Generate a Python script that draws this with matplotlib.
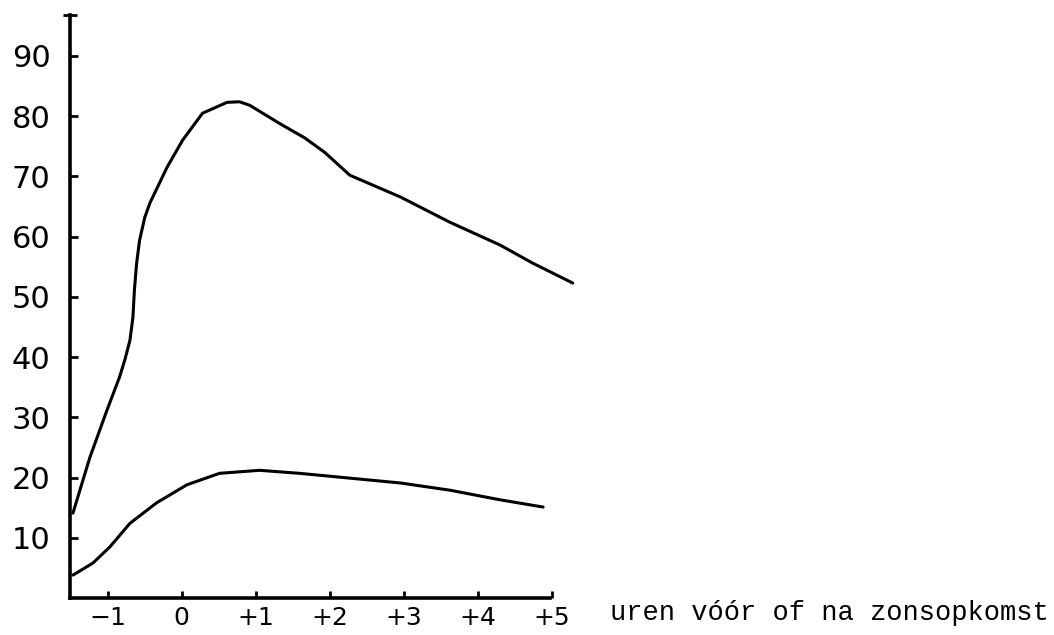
import matplotlib.pyplot as plt

# uren voor/na zonsopkomst
upper_x = [-1.47, -1.24, -1.01, -0.84, -0.77, -0.70, -0.66, -0.64, -0.61, -0.57,
           -0.50, -0.43, -0.20, 0.01, 0.28, 0.61, 0.78, 0.92, 1.32, 1.66,
           1.93, 2.27, 2.95, 3.62, 4.30, 4.74, 5.28]
upper_y = [14.1, 23.4, 31.2, 36.7, 39.5, 42.8, 46.6, 51.1, 55.6, 59.4,
           63.2, 65.6, 71.5, 76.0, 80.5, 82.3, 82.4, 81.8, 78.8, 76.4,
           74.0, 70.2, 66.6, 62.4, 58.6, 55.6, 52.3]

lower_x = [-1.47, -1.20, -0.97, -0.70, -0.34, 0.07, 0.51, 1.05, 1.59,
           2.27, 2.95, 3.62, 4.30, 4.88]
lower_y = [3.8, 5.8, 8.5, 12.4, 15.8, 18.8, 20.7, 21.2, 20.7,
           19.9, 19.1, 17.9, 16.3, 15.1]

x_ticks = [-1, 0, 1, 2, 3, 4, 5]
x_labels = ["\u22121", "0", "+1", "+2", "+3", "+4", "+5"]
y_ticks = [10, 20, 30, 40, 50, 60, 70, 80, 90]

fig = plt.figure(figsize=(10.54, 6.35), dpi=100)
ax = fig.add_axes([0.0664, 0.0583, 0.4854, 0.918])

ax.plot(upper_x, upper_y, color="black", lw=2.2, solid_joinstyle="round", solid_capstyle="round")
ax.plot(lower_x, lower_y, color="black", lw=2.2, solid_joinstyle="round", solid_capstyle="round")

ax.set_xlim(-1.51, 5.4)
ax.set_ylim(0, 96.8)

for s in ["top", "right"]:
    ax.spines[s].set_visible(False)
for s in ["left", "bottom"]:
    ax.spines[s].set_linewidth(2.6)
ax.spines["bottom"].set_bounds(-1.51, 4.97)

ax.set_xticks(x_ticks)
ax.set_xticklabels(x_labels)
ax.set_yticks(y_ticks)
ax.set_yticks([96.8], minor=True)

ax.tick_params(axis="x", direction="in", length=5, width=2, labelsize=18, pad=6)
ax.tick_params(axis="y", direction="in", length=6, width=2, labelsize=22, pad=14)
ax.tick_params(axis="y", which="minor", direction="inout", length=10, width=2)

fig.text(0.579, 0.035, "uren v\u00f3\u00f3r of na zonsopkomst", family="Liberation Mono",
         fontsize=19.5, va="center", ha="left")

fig.savefig("out.png", dpi=100)
